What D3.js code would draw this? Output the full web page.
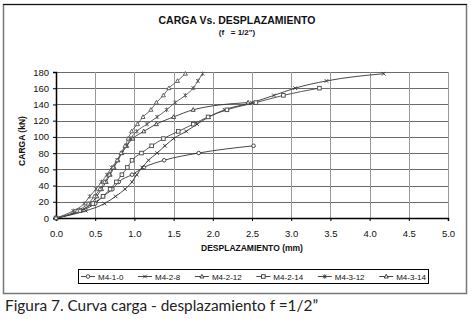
<!DOCTYPE html>
<html>
<head>
<meta charset="utf-8">
<script src="https://cdn.jsdelivr.net/npm/d3@7"></script>
<style>
  html, body { margin: 0; padding: 0; background: #fff; }
  svg { display: block; }
</style>
</head>
<body>
<div id="chart"></div>
<script>
// Load steps (kN) - 2 kip increments
const loads = [0, 8.9, 17.8, 26.7, 35.6, 44.5, 53.4, 62.3, 71.2, 80.1, 89.0, 97.9, 106.8, 115.7, 124.6, 133.4, 142.3, 151.2, 160.1, 169.0, 177.9];

// Displacements (mm) for each series, one per load step
const seriesNames = ['M4-1-0', 'M4-2-8', 'M4-2-12', 'M4-2-14', 'M4-3-12', 'M4-3-14'];
const dispM410  = [0, 0.32, 0.50, 0.60, 0.72, 0.80, 0.97, 1.12, 1.38, 1.82, 2.52];
const dispM428  = [0, 0.38, 0.62, 0.76, 0.88, 0.97, 1.03, 1.10, 1.18, 1.29, 1.39, 1.50, 1.66, 1.80, 1.95, 2.15, 2.50, 2.78, 3.05, 3.45, 4.18];
const dispM4212 = [0, 0.30, 0.45, 0.52, 0.58, 0.64, 0.69, 0.74, 0.79, 0.84, 0.90, 0.98, 1.12, 1.28, 1.50, 1.75, 2.45];
const dispM4214 = [0, 0.30, 0.47, 0.60, 0.69, 0.77, 0.84, 0.91, 0.97, 1.09, 1.22, 1.37, 1.56, 1.75, 1.94, 2.18, 2.55, 2.90, 3.36];
const dispM4312 = [0, 0.22, 0.36, 0.43, 0.51, 0.58, 0.65, 0.71, 0.78, 0.84, 0.90, 0.95, 1.03, 1.16, 1.29, 1.41, 1.52, 1.65, 1.75, 1.81, 1.87];
const dispM4314 = [0, 0.27, 0.41, 0.49, 0.56, 0.62, 0.68, 0.73, 0.78, 0.83, 0.88, 0.92, 0.965, 1.04, 1.11, 1.21, 1.28, 1.37, 1.44, 1.55, 1.65];
const seriesDisp = [dispM410, dispM428, dispM4212, dispM4214, dispM4312, dispM4314];
const seriesMarker = ['circle', 'cross', 'triangle', 'square', 'star', 'triangle'];
const seriesColor = ['#333', '#333', '#333', '#444', '#555', '#555'];

const xTicks = [0, 0.5, 1.0, 1.5, 2.0, 2.5, 3.0, 3.5, 4.0, 4.5, 5.0];
const yTicks = [0, 20, 40, 60, 80, 100, 120, 140, 160, 180];

const width = 471, height = 319;
const margin = { top: 72, right: 23, bottom: 101, left: 56 };
const innerW = width - margin.left - margin.right;
const innerH = height - margin.top - margin.bottom;
const font = 'Liberation Sans, Arial, sans-serif';

const svg = d3.select('#chart').append('svg')
  .attr('width', width)
  .attr('height', height)
  .style('font-family', font);

// Chart frame
svg.append('rect')
  .attr('x', 3.5).attr('y', 4.5)
  .attr('width', 463).attr('height', 289)
  .attr('fill', '#fff')
  .attr('stroke', '#777')
  .attr('stroke-width', 1.5);
svg.append('line')
  .attr('x1', 3).attr('x2', 467).attr('y1', 4.5).attr('y2', 4.5)
  .attr('stroke', '#111').attr('stroke-width', 1);

// Titles
svg.append('text')
  .attr('x', 237).attr('y', 24)
  .attr('text-anchor', 'middle')
  .attr('font-size', '10.5px').attr('font-weight', 'bold')
  .attr('fill', '#111')
  .text('CARGA Vs. DESPLAZAMIENTO');
svg.append('text')
  .attr('x', 237).attr('y', 35)
  .attr('text-anchor', 'middle')
  .attr('font-size', '8px').attr('font-weight', 'bold')
  .attr('fill', '#111')
  .attr('xml:space', 'preserve')
  .text('(f   = 1/2")');

const g = svg.append('g')
  .attr('transform', `translate(${margin.left},${margin.top})`);

const x = d3.scaleLinear().domain([0, 5]).range([0, innerW]);
const y = d3.scaleLinear().domain([0, 180]).range([innerH, 0]);

// Grid
g.selectAll('.hgrid').data(yTicks.slice(1))
  .enter().append('line')
  .attr('x1', 0).attr('x2', innerW)
  .attr('y1', d => Math.round(y(d)) + 0.5).attr('y2', d => Math.round(y(d)) + 0.5)
  .attr('stroke', '#6a6a6a').attr('stroke-width', 1);
g.selectAll('.vgrid').data(xTicks.slice(1))
  .enter().append('line')
  .attr('x1', d => Math.round(x(d)) + 0.5).attr('x2', d => Math.round(x(d)) + 0.5)
  .attr('y1', 0).attr('y2', innerH)
  .attr('stroke', '#999').attr('stroke-width', 1);

// Axes
const yAxis = g.append('g')
  .call(d3.axisLeft(y).tickValues(yTicks).tickSize(3).tickPadding(4).tickFormat(d3.format('d')));
yAxis.select('.domain').attr('stroke', '#000').attr('stroke-width', 1.5);
yAxis.selectAll('line').attr('stroke', '#000');
yAxis.selectAll('text').attr('font-size', '9.5px').attr('fill', '#111')
  .attr('font-family', font);

const xAxis = g.append('g')
  .attr('transform', `translate(0,${innerH})`)
  .call(d3.axisBottom(x).tickValues(xTicks).tickSize(3).tickPadding(9).tickFormat(d3.format('.1f')));
xAxis.select('.domain').attr('stroke', '#000').attr('stroke-width', 1.5);
xAxis.selectAll('line').attr('stroke', '#000');
xAxis.selectAll('text').attr('font-size', '9.5px').attr('fill', '#111')
  .attr('font-family', font);

// Axis labels
svg.append('text')
  .attr('transform', `translate(25,141) rotate(-90)`)
  .attr('text-anchor', 'middle')
  .attr('font-size', '8.5px').attr('font-weight', 'bold').attr('fill', '#111')
  .text('CARGA (kN)');
svg.append('text')
  .attr('x', margin.left + innerW / 2).attr('y', 251)
  .attr('text-anchor', 'middle')
  .attr('font-size', '8.5px').attr('font-weight', 'bold').attr('fill', '#111')
  .text('DESPLAZAMIENTO (mm)');

// Marker drawing
function drawMarker(sel, type, color) {
  if (type === 'circle') {
    sel.append('circle').attr('r', 1.8).attr('fill', '#fff').attr('stroke', color).attr('stroke-width', 0.9);
  } else if (type === 'square') {
    sel.append('rect').attr('x', -1.8).attr('y', -1.8).attr('width', 3.6).attr('height', 3.6)
      .attr('fill', '#fff').attr('stroke', color).attr('stroke-width', 0.9);
  } else if (type === 'triangle') {
    sel.append('path').attr('d', 'M0,-2.2L2,1.5L-2,1.5Z')
      .attr('fill', '#fff').attr('stroke', color).attr('stroke-width', 0.9);
  } else if (type === 'cross') {
    sel.append('path').attr('d', 'M-1.8,-1.8L1.8,1.8M-1.8,1.8L1.8,-1.8')
      .attr('stroke', color).attr('stroke-width', 0.9);
  } else {
    sel.append('path').attr('d', 'M-1.8,-1.8L1.8,1.8M-1.8,1.8L1.8,-1.8M0,-2.2V2.2')
      .attr('stroke', color).attr('stroke-width', 0.9);
  }
}

const line = d3.line()
  .x(d => x(d[0]))
  .y(d => y(d[1]))
  .curve(d3.curveMonotoneX);

seriesDisp.forEach((disp, i) => {
  const pts = disp.map((dx, k) => [dx, loads[k]]);
  g.append('path')
    .datum(pts)
    .attr('fill', 'none')
    .attr('stroke', seriesColor[i])
    .attr('stroke-width', 0.9)
    .attr('d', line);
  pts.forEach(p => {
    const m = g.append('g').attr('transform', `translate(${x(p[0])},${y(p[1])})`);
    drawMarker(m, seriesMarker[i], seriesColor[i]);
  });
});

// Legend - entries laid out one after another, spread to fill the box
const legend = svg.append('g');
legend.append('rect')
  .attr('x', 78.5).attr('y', 269.5)
  .attr('width', 350).attr('height', 14)
  .attr('fill', '#fff').attr('stroke', '#000').attr('stroke-width', 1);

const items = seriesNames.map((name, i) => {
  const lg = legend.append('g');
  lg.append('line').attr('x1', 0).attr('x2', 14).attr('stroke', '#333').attr('stroke-width', 0.9);
  const m = lg.append('g').attr('transform', 'translate(7,0)');
  drawMarker(m, seriesMarker[i], '#333');
  const t = lg.append('text').attr('x', 17).attr('y', 3)
    .attr('font-size', '8px').attr('fill', '#111')
    .text(name);
  return { g: lg, w: 17 + t.node().getComputedTextLength() };
});
const legStart = 81, legEnd = 426;
const used = d3.sum(items, d => d.w);
const gap = (legEnd - legStart - used) / (items.length - 1);
let cx = legStart;
items.forEach(it => {
  it.g.attr('transform', `translate(${cx},276.5)`);
  cx += it.w + gap;
});

// Caption
svg.append('text')
  .attr('x', 5).attr('y', 311)
  .attr('font-family', 'Lato, sans-serif')
  .attr('font-size', '14.5px').attr('fill', '#222')
  .attr('textLength', 313)
  .attr('lengthAdjust', 'spacingAndGlyphs')
  .text('Figura 7. Curva carga - desplazamiento f =1/2\u201D');
</script>
</body>
</html>
